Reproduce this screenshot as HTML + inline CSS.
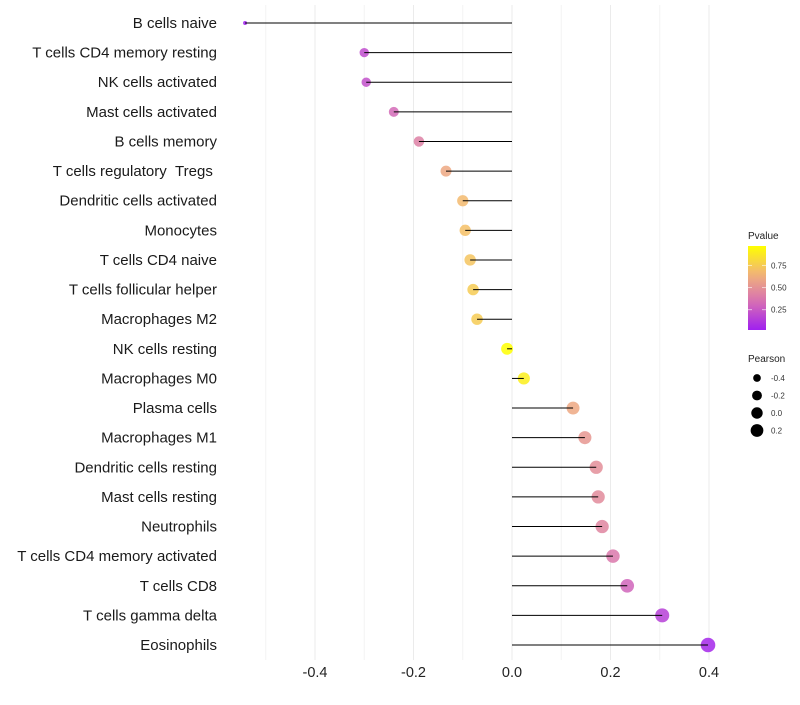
<!DOCTYPE html>
<html><head><meta charset="utf-8"><style>
body{margin:0;background:#fff;font-family:"Liberation Sans",sans-serif;}
</style></head><body>
<svg id="chart" width="800" height="700" xmlns="http://www.w3.org/2000/svg" font-family="Liberation Sans, sans-serif"></svg>
<script>
const categories=["B cells naive","T cells CD4 memory resting","NK cells activated","Mast cells activated","B cells memory","T cells regulatory\u00a0\u00a0Tregs\u00a0","Dendritic cells activated","Monocytes","T cells CD4 naive","T cells follicular helper","Macrophages M2","NK cells resting","Macrophages M0","Plasma cells","Macrophages M1","Dendritic cells resting","Mast cells resting","Neutrophils","T cells CD4 memory activated","T cells CD8","T cells gamma delta","Eosinophils"];
const pearson=[-0.542,-0.30,-0.296,-0.24,-0.189,-0.134,-0.10,-0.095,-0.085,-0.079,-0.071,-0.010,0.024,0.124,0.148,0.171,0.175,0.183,0.205,0.234,0.305,0.398];
const pvalue=[0.01,0.2,0.22,0.32,0.42,0.6,0.68,0.7,0.72,0.75,0.75,0.97,0.9,0.6,0.52,0.48,0.47,0.44,0.38,0.3,0.15,0.05];
const xTicks=[-0.4,-0.2,0.0,0.2,0.4];
const xTickLabels=["-0.4","-0.2","0.0","0.2","0.4"];
const pLegend=[0.25,0.5,0.75];
const sizeLegend=[-0.4,-0.2,0.0,0.2];

const NS="http://www.w3.org/2000/svg";
const svg=document.getElementById('chart');
function el(t,a){const e=document.createElementNS(NS,t);for(const k in a)e.setAttribute(k,a[k]);svg.appendChild(e);return e;}
const x=v=>512+v*492.5;
const y=i=>23+i*(645-23)/21;
const rad=v=>2+5.3*Math.sqrt(Math.max(0,(v+0.54)/0.94));
function lerp(a,b,t){return a.map((c,i)=>Math.round(c+(b[i]-c)*t));}
function col(p){const s=[[160,32,240],[214,110,180],[242,180,120],[255,255,0]];const t=Math.min(1,Math.max(0,(p-0.02)/0.95))*3;const i=Math.min(2,Math.floor(t));const c=lerp(s[i],s[i+1],t-i);return `rgb(${c})`;}

for(let g=-0.5;g<=0.41;g+=0.1){const l=el('line',{x1:x(g),x2:x(g),y1:5,y2:660,stroke:Math.abs(Math.round(g*10))%2===0?'#ebebeb':'#f3f3f3','stroke-width':1});
}
xTicks.forEach((t,i)=>{const tx=el('text',{x:x(t),y:677,'text-anchor':'middle','font-size':14.5,fill:'#222'});tx.textContent=xTickLabels[i];
});
categories.forEach((c,i)=>{
 const lb=el('text',{x:217,y:y(i)+5,'text-anchor':'end','font-size':15,fill:'#1a1a1a'});lb.textContent=c;
 
 const d=el('circle',{cx:x(pearson[i]),cy:y(i),r:rad(pearson[i]),fill:col(pvalue[i]),'fill-opacity':0.85});
 
 const ln=el('line',{x1:x(0),x2:x(pearson[i]),y1:y(i),y2:y(i),stroke:'#000','stroke-width':1});
 
});
const t1=el('text',{x:748,y:239,'font-size':10,fill:'#222'});t1.textContent='Pvalue';

const defs=el('defs',{});const gr=document.createElementNS(NS,'linearGradient');gr.setAttribute('id','pg');gr.setAttribute('x1','0');gr.setAttribute('y1','1');gr.setAttribute('x2','0');gr.setAttribute('y2','0');defs.appendChild(gr);
for(let k=0;k<=10;k++){const s=document.createElementNS(NS,'stop');s.setAttribute('offset',k/10);s.setAttribute('stop-color',col(0.02+0.95*k/10));gr.appendChild(s);}
const bar=el('rect',{x:748,y:246,width:18,height:84,fill:'url(#pg)'});

pLegend.forEach(p=>{const yy=330-(p-0.02)/0.95*84;
 el('line',{x1:748,x2:752,y1:yy,y2:yy,stroke:'#fff','stroke-opacity':0.6});el('line',{x1:762,x2:766,y1:yy,y2:yy,stroke:'#fff','stroke-opacity':0.6});
 const t=el('text',{x:771,y:yy+3,'font-size':8,fill:'#333'});t.textContent=p.toFixed(2);
 });
const t2=el('text',{x:748,y:362,'font-size':10,fill:'#222'});t2.textContent='Pearson';

sizeLegend.forEach((v,i)=>{const yy=378+i*17.5;
 const c=el('circle',{cx:757,cy:yy,r:rad(v)*0.95,fill:'#000'});
 
 const t=el('text',{x:771,y:yy+3,'font-size':8,fill:'#333'});t.textContent=v.toFixed(1);
 });
</script>
</body></html>
